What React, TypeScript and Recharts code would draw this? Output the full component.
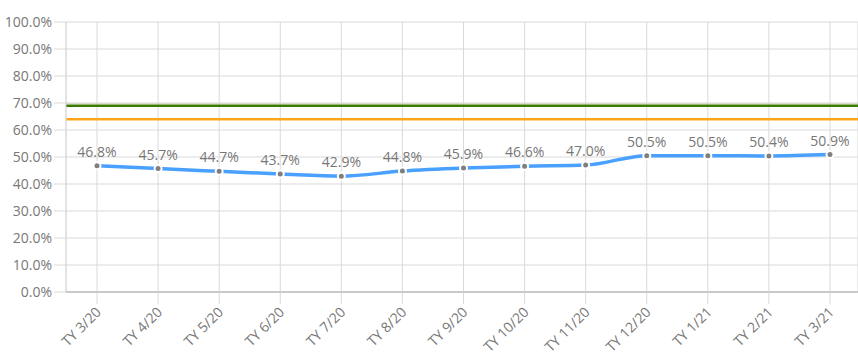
import React from 'react';
import {
  LineChart, Line, XAxis, YAxis, CartesianGrid, ReferenceLine, LabelList
} from 'recharts';

const months = [
  'TY 3/20', 'TY 4/20', 'TY 5/20', 'TY 6/20', 'TY 7/20', 'TY 8/20', 'TY 9/20',
  'TY 10/20', 'TY 11/20', 'TY 12/20', 'TY 1/21', 'TY 2/21', 'TY 3/21'
];
const rates = [0.468, 0.457, 0.447, 0.437, 0.429, 0.448, 0.459, 0.466, 0.47, 0.505, 0.505, 0.504, 0.509];
const yTicks = [0, 0.1, 0.2, 0.3, 0.4, 0.5, 0.6, 0.7, 0.8, 0.9, 1];
const goalLine = 0.69;
const targetLine = 0.64;

const data = months.map((m, i) => ({ month: m, rate: rates[i] }));

const pct = (v: number) => `${(v * 100).toFixed(1)}%`;

const font = '"Open Sans", "Noto Sans", sans-serif';
const textGray = '#777777';

// rotated category labels
const MonthTick = (props: any) => {
  const { x, y, payload } = props;
  return (
    <g transform={`translate(${x + 5},${y + 7})`}>
      <text
        textAnchor="end"
        transform="rotate(-45)"
        fill={textGray}
        fontSize={14}
        fontFamily={font}
      >
        {payload.value}
      </text>
    </g>
  );
};

const App: React.FC = () => {
  return (
    <div style={{ position: 'absolute', left: 0, top: 0, background: '#fff' }}>
      <LineChart
        width={858}
        height={360}
        data={data}
        margin={{ top: 22, right: 0, bottom: 0, left: 0 }}
      >
        <CartesianGrid stroke="#d9d9d9" />
        <XAxis
          dataKey="month"
          interval={0}
          height={68}
          padding={{ left: 31, right: 28 }}
          stroke="#a6a6a6"
          tickLine={{ stroke: '#d9d9d9' }}
          tickSize={12}
          tick={<MonthTick />}
        />
        <YAxis
          width={66}
          domain={[0, 1]}
          ticks={yTicks}
          tickFormatter={pct}
          axisLine={{ stroke: '#d9d9d9' }}
          tickLine={{ stroke: '#d9d9d9' }}
          tickSize={12}
          tickMargin={2}
          tick={{ fill: textGray, fontSize: 14, fontFamily: font }}
        />
        <ReferenceLine y={goalLine} stroke="#d0d9c8" strokeWidth={1} transform="translate(0,-2)" />
        <ReferenceLine y={goalLine} stroke="#3d7a00" strokeWidth={2.5} />
        <ReferenceLine y={targetLine} stroke="#ffa51c" strokeWidth={2.5} />
        <Line
          type="monotone"
          dataKey="rate"
          stroke="#4aa0ff"
          strokeWidth={3.5}
          dot={{ r: 3.5, fill: '#7f7f7f', stroke: '#fff', strokeWidth: 2 }}
          isAnimationActive={false}
        >
          <LabelList
            dataKey="rate"
            position="top"
            offset={9}
            formatter={(v: any) => pct(Number(v))}
            style={{ fill: textGray, fontSize: 14, fontFamily: font }}
          />
        </Line>
      </LineChart>
    </div>
  );
};

export default App;
